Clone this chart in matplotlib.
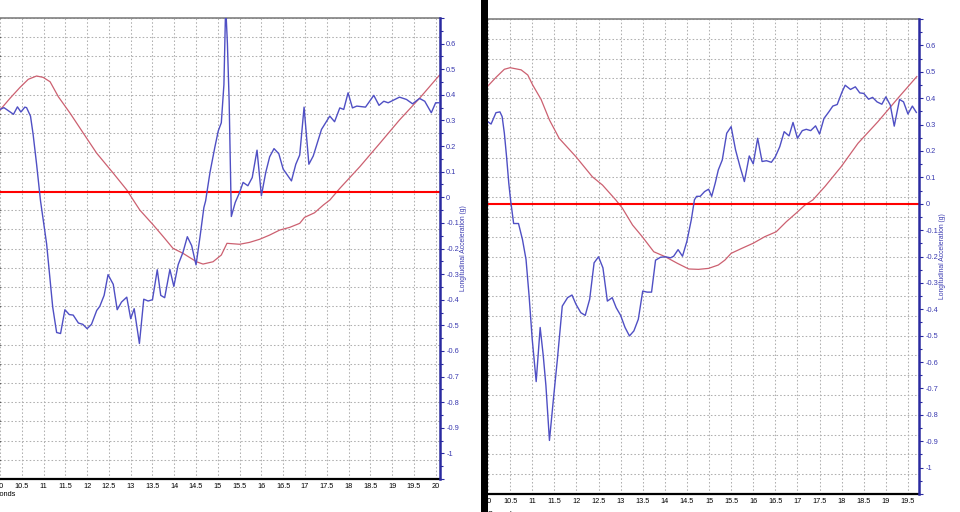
import numpy as np
import matplotlib
matplotlib.use("Agg")
import matplotlib.pyplot as plt
from matplotlib.patches import Rectangle
from matplotlib.ticker import MultipleLocator, FuncFormatter

# ---------------- data ----------------
# Left panel: longitudinal acceleration (g)
left_acc_t = [10.0, 10.09, 10.31, 10.40, 10.48, 10.57, 10.61, 10.70, 10.76, 10.84,
              10.93, 11.07, 11.21, 11.30, 11.39, 11.49, 11.59, 11.68, 11.80, 11.90,
              12.00, 12.10, 12.22, 12.29, 12.39, 12.48, 12.60, 12.69, 12.79, 12.91,
              13.00, 13.08, 13.20, 13.30, 13.40, 13.50, 13.61, 13.69, 13.78, 13.90,
              13.99, 14.09, 14.20, 14.30, 14.40, 14.50, 14.59, 14.68, 14.72, 14.82,
              14.93, 15.01, 15.08, 15.14, 15.18, 15.22, 15.26, 15.31, 15.40, 15.50,
              15.58, 15.69, 15.79, 15.90, 16.00, 16.10, 16.19, 16.29, 16.40, 16.50,
              16.69, 16.79, 16.88, 16.98, 17.09, 17.19, 17.38, 17.57, 17.68, 17.80,
              17.89, 17.99, 18.09, 18.19, 18.39, 18.58, 18.70, 18.81, 18.91, 19.17,
              19.33, 19.47, 19.63, 19.75, 19.90, 20.00, 20.10]
left_acc_g = [0.343, 0.35, 0.324, 0.353, 0.333, 0.352, 0.35, 0.317, 0.246, 0.129,
              -0.014, -0.182, -0.429, -0.528, -0.532, -0.439, -0.458, -0.46, -0.491, -0.496,
              -0.513, -0.496, -0.442, -0.426, -0.383, -0.302, -0.34, -0.439, -0.409, -0.39,
              -0.474, -0.435, -0.571, -0.398, -0.405, -0.40, -0.283, -0.383, -0.392, -0.282,
              -0.348, -0.263, -0.215, -0.154, -0.189, -0.264, -0.156, -0.04, -0.014, 0.097,
              0.194, 0.259, 0.291, 0.44, 0.75, 0.60, 0.375, -0.075, -0.02, 0.019,
              0.058, 0.045, 0.077, 0.184, 0.006, 0.097, 0.158, 0.19, 0.17, 0.11,
              0.064, 0.129, 0.165, 0.352, 0.129, 0.161, 0.265, 0.317, 0.295, 0.349,
              0.343, 0.408, 0.349, 0.356, 0.352, 0.398, 0.359, 0.375, 0.369, 0.391,
              0.382, 0.365, 0.386, 0.375, 0.33, 0.369, 0.369]
# Left panel: speed (km/h)
left_spd_t = [10.0, 10.23, 10.46, 10.65, 10.84, 10.99, 11.15, 11.34, 11.61, 11.99,
              12.22, 12.60, 12.91, 13.06, 13.21, 13.52, 13.75, 13.97, 14.20, 14.51,
              14.66, 14.89, 15.08, 15.21, 15.50, 15.73, 15.96, 16.19, 16.42, 16.65,
              16.88, 16.99, 17.22, 17.42, 17.57, 17.80, 18.26, 18.72, 19.17, 19.63, 20.09]
left_spd_v = [192.1, 198.2, 203.9, 208.1, 209.8, 209.1, 206.8, 199.0, 190.4, 177.4,
              169.6, 159.2, 150.5, 145.2, 140.0, 132.2, 126.1, 120.1, 117.5, 113.1,
              111.9, 113.1, 116.6, 122.7, 122.2, 123.2, 124.8, 127.0, 129.6, 131.0,
              133.1, 136.2, 138.6, 142.6, 145.2, 151.3, 162.6, 174.8, 186.9, 198.2, 210.3]
left_ref_g = 0.02

# Right panel: longitudinal acceleration (g)
right_acc_t = [10.0, 10.07, 10.18, 10.27, 10.32, 10.37, 10.42, 10.47, 10.51, 10.58,
               10.69, 10.78, 10.86, 10.93, 11.00, 11.09, 11.18, 11.25, 11.31, 11.39,
               11.48, 11.57, 11.68, 11.80, 11.90, 11.99, 12.10, 12.20, 12.30, 12.40,
               12.50, 12.60, 12.70, 12.81, 12.90, 13.00, 13.10, 13.20, 13.30, 13.40,
               13.50, 13.60, 13.70, 13.79, 13.90, 14.01, 14.13, 14.20, 14.30, 14.40,
               14.50, 14.60, 14.67, 14.72, 14.80, 14.90, 14.99, 15.06, 15.14, 15.21,
               15.30, 15.40, 15.50, 15.60, 15.70, 15.80, 15.91, 16.00, 16.10, 16.20,
               16.30, 16.41, 16.50, 16.60, 16.70, 16.81, 16.90, 17.00, 17.11, 17.20,
               17.30, 17.41, 17.50, 17.60, 17.71, 17.80, 17.90, 18.01, 18.08, 18.20,
               18.31, 18.41, 18.50, 18.61, 18.70, 18.80, 18.91, 19.00, 19.10, 19.19,
               19.31, 19.40, 19.50, 19.60, 19.69]
right_acc_g = [0.31, 0.302, 0.345, 0.348, 0.33, 0.267, 0.178, 0.078, 0.015, -0.075,
               -0.075, -0.136, -0.211, -0.35, -0.513, -0.674, -0.469, -0.576, -0.689, -0.897,
               -0.74, -0.589, -0.388, -0.356, -0.346, -0.381, -0.413, -0.423, -0.362, -0.224,
               -0.201, -0.243, -0.369, -0.356, -0.394, -0.423, -0.469, -0.501, -0.482, -0.438,
               -0.331, -0.335, -0.335, -0.214, -0.203, -0.201, -0.205, -0.199, -0.174, -0.199,
               -0.142, -0.06, 0.015, 0.028, 0.028, 0.046, 0.055, 0.028, 0.078, 0.128,
               0.166, 0.267, 0.292, 0.204, 0.141, 0.084, 0.181, 0.151, 0.248, 0.16,
               0.163, 0.157, 0.178, 0.216, 0.273, 0.257, 0.308, 0.248, 0.277, 0.282,
               0.277, 0.295, 0.264, 0.323, 0.348, 0.37, 0.376, 0.424, 0.449, 0.433,
               0.443, 0.42, 0.418, 0.396, 0.403, 0.386, 0.377, 0.405, 0.374, 0.294,
               0.395, 0.386, 0.34, 0.37, 0.346]
# Right panel: speed (km/h)
right_spd_t = [10.0, 10.18, 10.37, 10.50, 10.75, 10.90, 11.01, 11.20, 11.39, 11.61,
               11.99, 12.36, 12.59, 12.89, 13.04, 13.27, 13.49, 13.75, 14.01, 14.28,
               14.54, 14.76, 14.99, 15.21, 15.36, 15.50, 15.74, 16.00, 16.26, 16.52,
               16.75, 16.98, 17.17, 17.35, 17.62, 17.99, 18.37, 18.82, 19.27, 19.70]
right_spd_v = [206.2, 210.5, 214.6, 215.4, 214.3, 211.7, 206.7, 199.4, 189.0, 179.7,
               170.4, 160.3, 156.1, 148.6, 144.4, 135.9, 130.0, 122.4, 119.9, 116.6,
               113.7, 113.5, 114.0, 115.7, 118.2, 121.6, 124.1, 126.7, 130.0, 132.5,
               137.6, 142.1, 146.0, 148.6, 155.3, 165.4, 177.2, 188.1, 199.9, 210.9]
right_ref_g = 0.0

acc_label = "Longitudinal Acceleration (g)"
x_label = "Seconds"

# ---------------- styling ----------------
plt.rcParams["font.family"] = ["Liberation Sans", "DejaVu Sans"]
W, H = 960, 512
BLUE_LINE = "#4f4fc4"
RED_LINE = "#cc6070"
AXIS_BLUE = "#2a2aa0"
TICK_BLUE = "#3a3ab0"
GRID = "#b0b0b0"
FS = 5.3

fig = plt.figure(figsize=(W / 100, H / 100), dpi=100)
fig.patch.set_facecolor("white")


def rect(l, t, r, b):
    return [l / W, 1 - b / H, (r - l) / W, (b - t) / H]


def panel(box, xmax, at, ag, st, sv, ref):
    ax = fig.add_axes(rect(*box))
    ax.set_xlim(10, xmax)
    ax.set_ylim(0, 240)
    ax.xaxis.set_major_locator(MultipleLocator(0.5))
    ax.yaxis.set_major_locator(MultipleLocator(10))
    ax.grid(True, color=GRID, linestyle=(0, (1.5, 2)), linewidth=0.75)
    ax.set_axisbelow(True)
    ax.tick_params(axis="y", left=False, labelleft=False)
    ax.tick_params(axis="x", length=0, pad=3, labelsize=FS, colors="black")
    ax.xaxis.set_major_formatter(FuncFormatter(lambda v, p: f"{v:g}"))
    ax.spines["left"].set_visible(False)
    ax.spines["top"].set_color("#808080")
    ax.spines["top"].set_linewidth(1.2)
    ax.spines["bottom"].set_color("black")
    ax.spines["bottom"].set_linewidth(1.6)
    ax.spines["right"].set_visible(False)
    ax.plot(st, sv, color=RED_LINE, lw=0.9, zorder=3)

    ax2 = ax.twinx()
    ax2.set_ylim(-1.1, 0.7)
    ax2.yaxis.set_major_locator(MultipleLocator(0.1))
    ax2.yaxis.set_minor_locator(MultipleLocator(0.05))
    ax2.yaxis.set_major_formatter(FuncFormatter(
        lambda v, p: f"{v:g}" if -1.05 < v < 0.65 else ""))
    ax2.tick_params(axis="y", which="major", direction="out", length=3, width=0.8,
                    color=AXIS_BLUE, labelcolor=TICK_BLUE, labelsize=FS, pad=1.5)
    ax2.tick_params(axis="y", which="minor", direction="out", length=1.8, width=0.8,
                    color=AXIS_BLUE)
    for s in ("left", "top", "bottom"):
        ax2.spines[s].set_visible(False)
    ax2.spines["right"].set_color(AXIS_BLUE)
    ax2.spines["right"].set_linewidth(1.8)
    ax2.axhline(ref, color="#ff0000", lw=1.5, zorder=2)
    ax2.plot(at, ag, color=BLUE_LINE, lw=1.0, zorder=4)
    ax2.set_ylabel(acc_label, color=TICK_BLUE, fontsize=4.9, rotation=90)
    ax2.yaxis.set_label_coords(1 + 20 / (box[2] - box[0]), 0.5)
    return ax, ax2


panel((0, 18, 440, 479), 20.1, left_acc_t, left_acc_g, left_spd_t, left_spd_v, left_ref_g)
panel((488, 19, 919, 494), 19.75, right_acc_t, right_acc_g, right_spd_t, right_spd_v, right_ref_g)

# x-axis titles (partly outside the cropped screenshot)
fig.text(-12 / W, 1 - 495 / H, x_label, fontsize=FS, ha="left", va="center", color="black")
fig.text(488 / W, 1 - 514 / H, x_label, fontsize=FS, ha="left", va="center", color="black")

# black separator bar between the two screenshots
fig.add_artist(Rectangle((481 / W, 0), 7 / W, 1, transform=fig.transFigure,
                         facecolor="black", edgecolor="none", zorder=10))

fig.savefig("out.png", dpi=100)
